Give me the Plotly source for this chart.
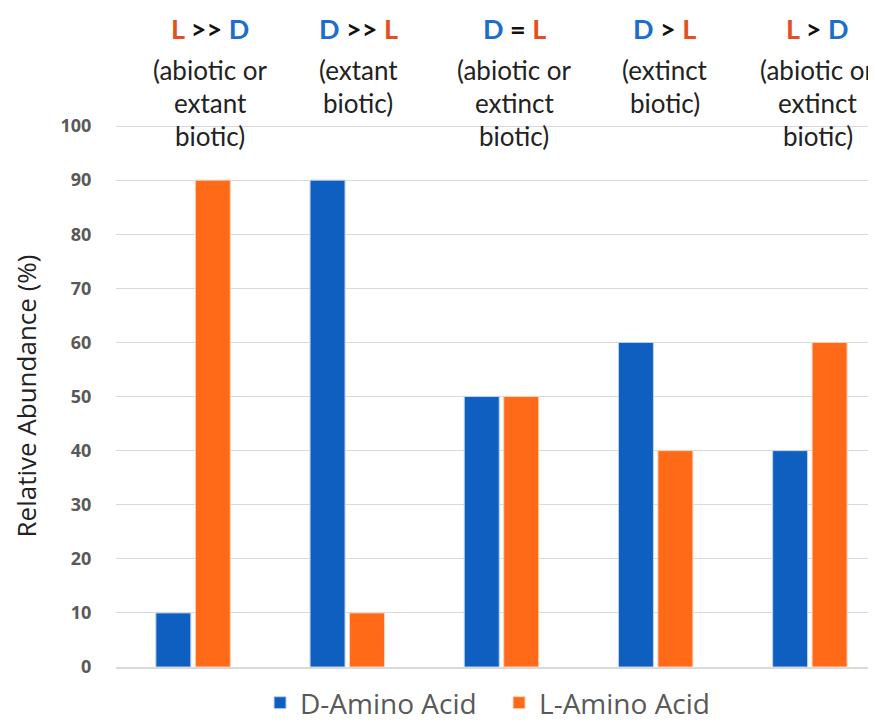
import plotly.graph_objects as go

categories = ["c1", "c2", "c3", "c4", "c5"]
d_values = [10, 90, 50, 60, 40]
l_values = [90, 10, 50, 40, 60]
header_left = ["L", "D", "D", "D", "L"]
header_op = [">>", ">>", "=", ">", ">"]
header_right = ["D", "L", "L", "L", "D"]
desc_lines = [
    ["(abiotic or", "extant", "biotic)"],
    ["(extant", "biotic)"],
    ["(abiotic or", "extinct", "biotic)"],
    ["(extinct", "biotic)"],
    ["(abiotic or", "extinct", "biotic)"],
]
y_ticks = [0, 10, 20, 30, 40, 50, 60, 70, 80, 90, 100]

# layout styling
label_xshift = [17, 11, 13, 9, 8]
BLUE = "#0F5FC0"
ORANGE = "#FF6A18"
LBL_COL = {"L": "#E2511C", "D": "#1A6ECC"}

fig = go.Figure()
fig.add_trace(go.Bar(x=categories, y=d_values, name="D-Amino Acid",
                     marker=dict(color=BLUE, line=dict(color="#BFD3EE", width=1))))
fig.add_trace(go.Bar(x=categories, y=l_values, name="L-Amino Acid",
                     marker=dict(color=ORANGE, line=dict(color="#FFD2B8", width=1))))

OFF = 8  # page body margin
W, H = 868, 715
mt, mb, ml, mr = 125 - OFF, 56, 108, 0
ph = H - mt - mb

def py(pix):
    # page pixel y (from top) -> paper y
    return (H - mb - (pix - OFF)) / ph

annotations = []
for i, c in enumerate(categories):
    hl, op, hr = header_left[i], header_op[i], header_right[i]
    txt = (f"<b><span style='color:{LBL_COL[hl]}'>{hl}</span> "
           f"<span style='color:#111'>{op}</span> "
           f"<span style='color:{LBL_COL[hr]}'>{hr}</span></b>")
    annotations.append(dict(x=c, xref="x", y=py(28), yref="paper", text=txt,
                            showarrow=False, yanchor="middle", xanchor="center",
                            xshift=label_xshift[i],
                            font=dict(family="Lato", size=27)))
    for j, line in enumerate(desc_lines[i]):
        annotations.append(dict(x=c, xref="x", y=py(70 + 33 * j), yref="paper",
                                text=line, showarrow=False, yanchor="middle",
                                xanchor="center", xshift=label_xshift[i],
                                font=dict(family="Lato", size=26, color="#222222")))

fig.update_layout(
    width=W, height=H,
    margin=dict(t=mt, b=mb, l=ml, r=mr, pad=0, autoexpand=False),
    paper_bgcolor="white", plot_bgcolor="white",
    barmode="group", bargap=0.488, bargroupgap=0.114,
    showlegend=True,
    legend=dict(orientation="h", x=0.504, xanchor="center", y=py(703), yanchor="middle",
                font=dict(family="Open Sans", size=28, color="#595959"),
                itemwidth=30, traceorder="normal",
                entrywidth=194, entrywidthmode="pixels"),
    annotations=annotations,
    xaxis=dict(showticklabels=False, showgrid=False, zeroline=False,
               range=[-0.5, 4.429],
               showline=True, linecolor="#D9D9D9", linewidth=1.5),
    yaxis=dict(range=[0, 100.2], tickvals=y_ticks, showgrid=True,
               gridcolor="#D9D9D9", gridwidth=1.3, zeroline=False,
               ticks="outside", ticklen=20, tickcolor="rgba(0,0,0,0)",
               tickfont=dict(family="Open Sans", size=18, color="#595959", weight="bold"),
               title=dict(text="Relative Abundance (%)", standoff=25,
                          font=dict(family="Open Sans", size=26, color="#222222"))),
)

fig.write_html("out.html")
